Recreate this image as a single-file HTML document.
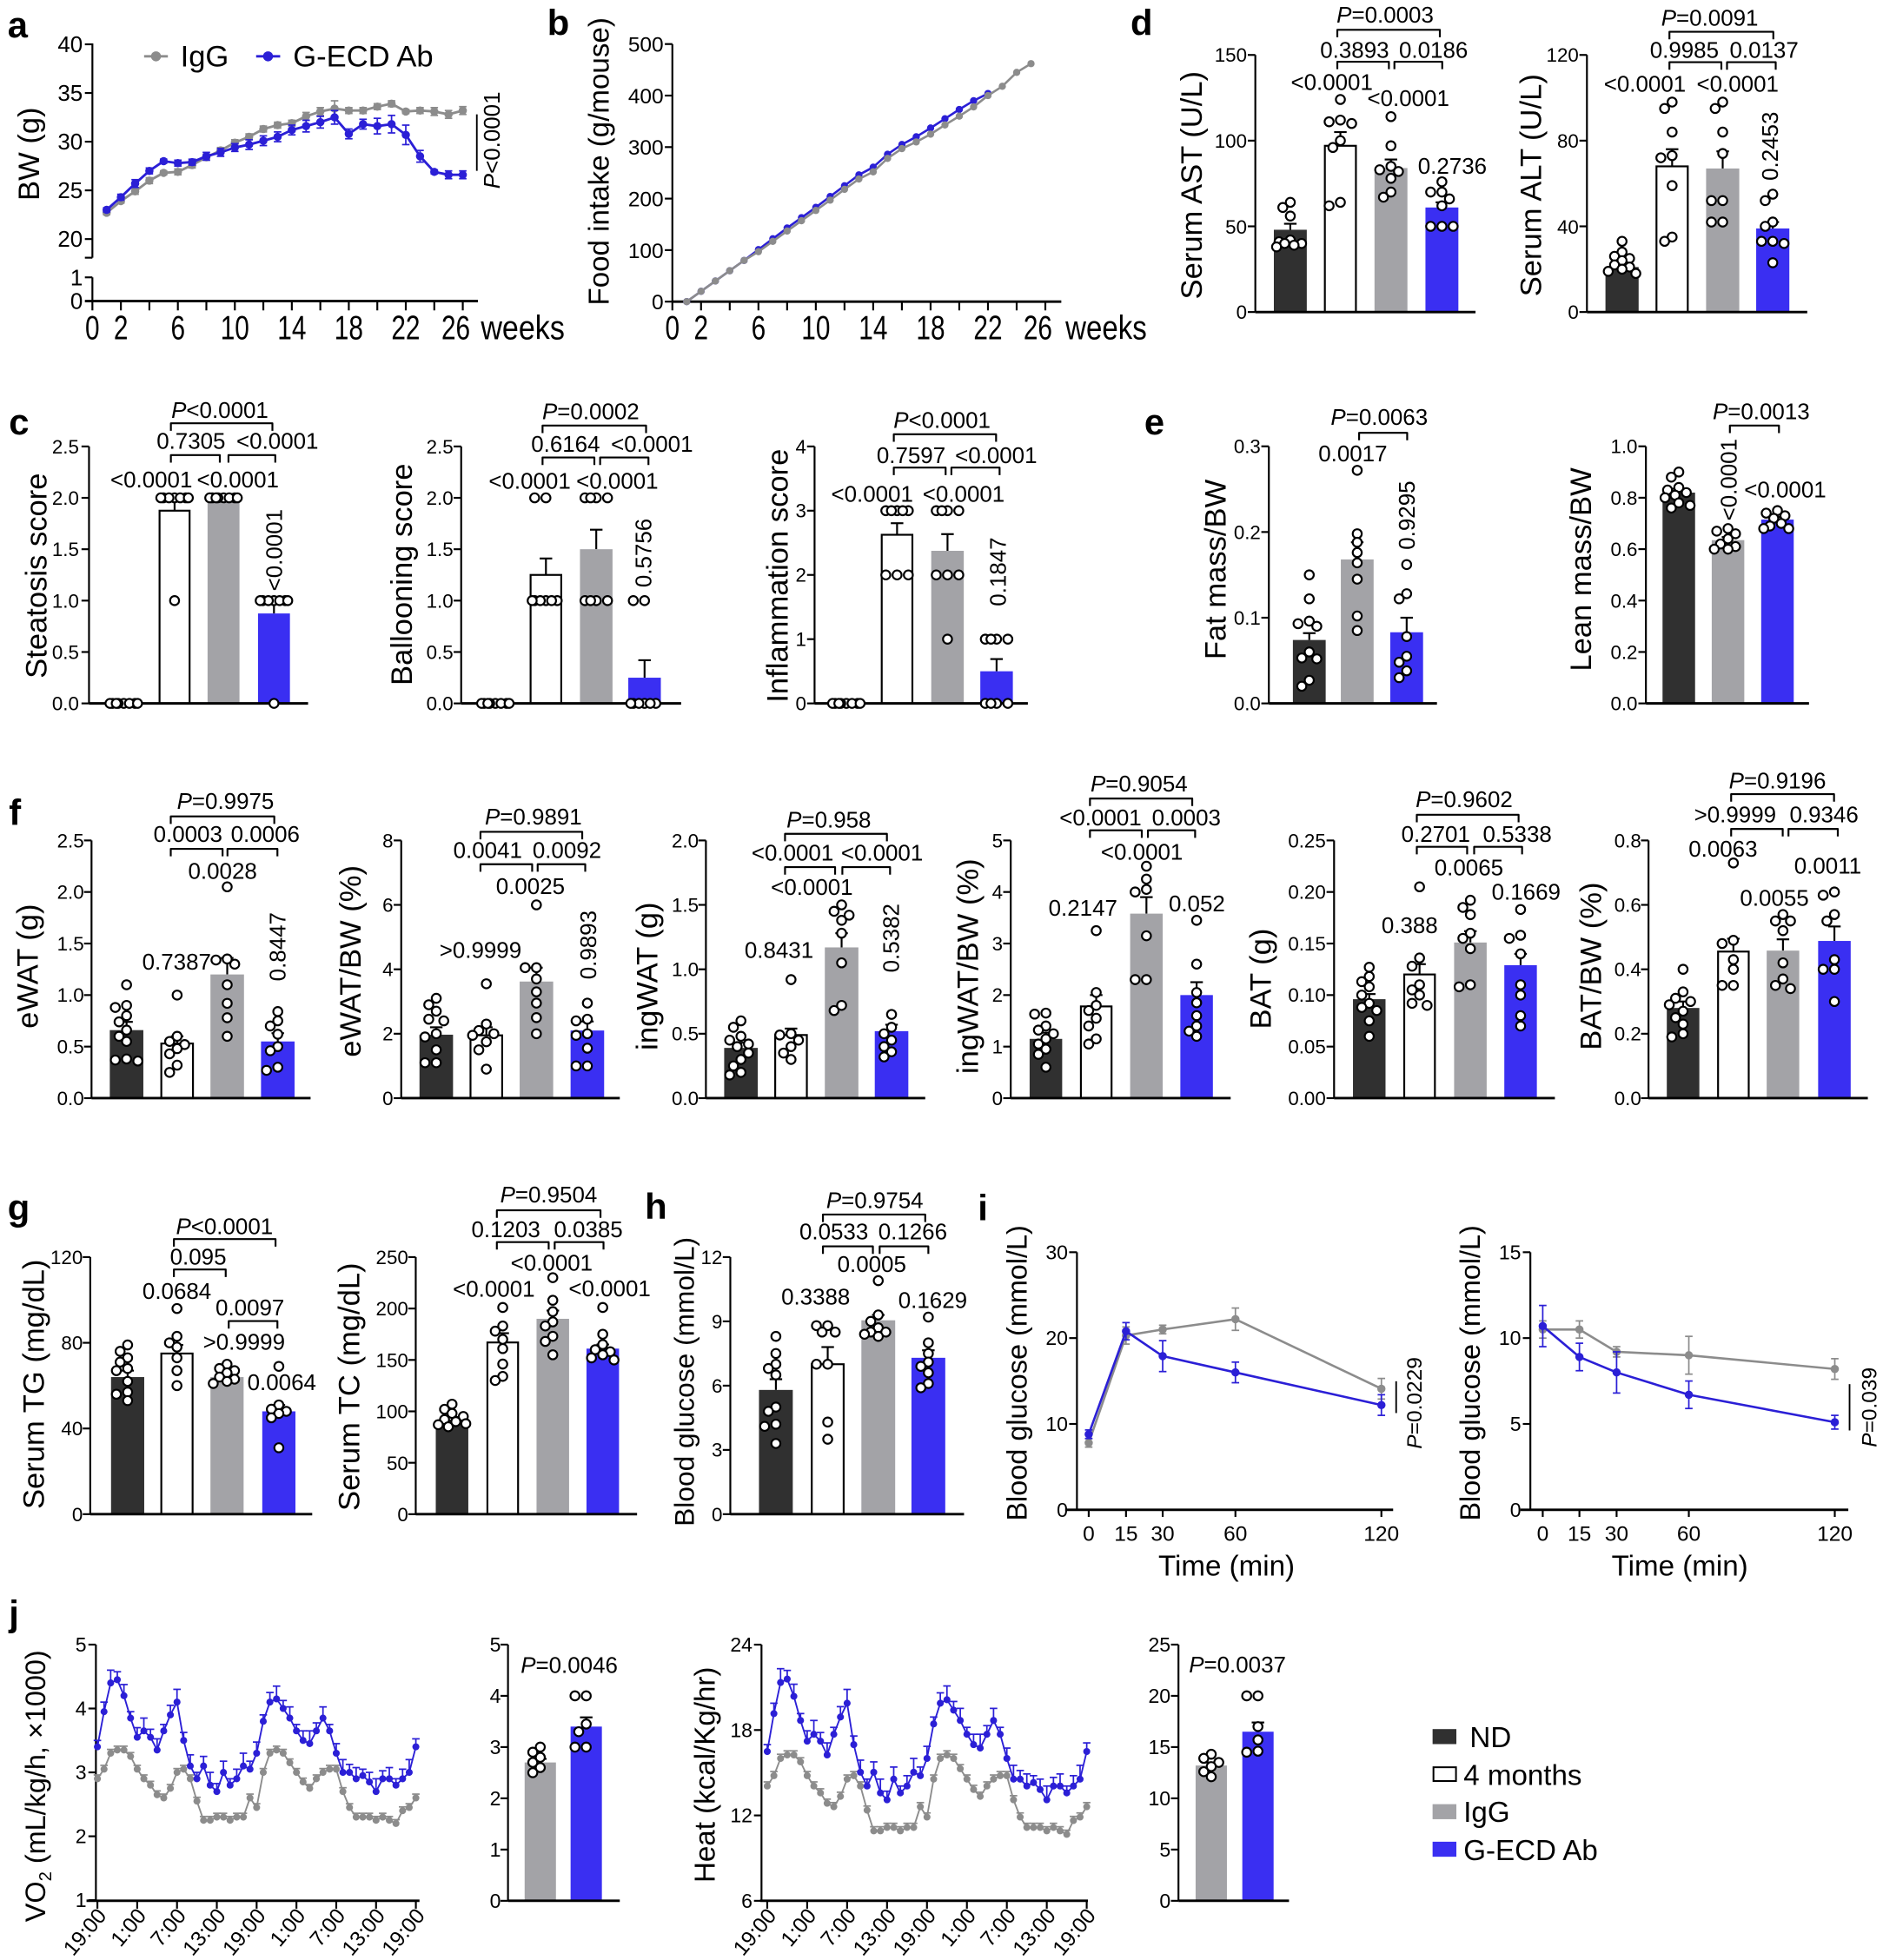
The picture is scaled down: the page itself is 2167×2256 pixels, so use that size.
<!DOCTYPE html>
<html><head><meta charset="utf-8">
<style>
html,body{margin:0;padding:0;background:#fff}
svg{display:block}
text{font-family:"Liberation Sans",Arial,Helvetica,sans-serif;fill:#000}
.pl{font-size:29px;font-weight:bold}
.a15{font-size:15.5px}
.a16{font-size:16px}
.a17{font-size:17px}
.a18{font-size:18px}
.a22{font-size:22.5px}
.a23{font-size:23px}
.a24{font-size:24px}
.a27{font-size:27px}
.m{text-anchor:middle}
.e{text-anchor:end}
</style></head>
<body>
<svg id="fig" xmlns="http://www.w3.org/2000/svg" width="2167" height="2256" viewBox="0 0 1504 1566">
<rect x="0" y="0" width="1504" height="1566" fill="#fff"/>
<g id="shapes"></g>

<!-- panel letters -->
<text class="pl" x="6" y="30">a</text>
<text class="pl" x="437" y="28">b</text>
<text class="pl" x="903" y="28">d</text>
<text class="pl" x="7" y="347">c</text>
<text class="pl" x="914" y="347">e</text>
<text class="pl" x="7" y="659">f</text>
<text class="pl" x="6" y="975">g</text>
<text class="pl" x="515" y="974">h</text>
<text class="pl" x="781" y="975">i</text>
<text class="pl" x="7" y="1299">j</text>

<!-- ===== a ===== -->
<g class="a18 e">
<text x="66" y="41.7">40</text><text x="66" y="80.6">35</text><text x="66" y="119.5">30</text>
<text x="66" y="158.4">25</text><text x="66" y="197.3">20</text><text x="66" y="227.9">1</text><text x="66" y="246.9">0</text>
</g>
<g class="a27 m">
<text x="73.7" y="271" textLength="11.5" lengthAdjust="spacingAndGlyphs">0</text>
<text x="96.5" y="271" textLength="11.5" lengthAdjust="spacingAndGlyphs">2</text>
<text x="142" y="271" textLength="11.5" lengthAdjust="spacingAndGlyphs">6</text>
<text x="187.5" y="271" textLength="23" lengthAdjust="spacingAndGlyphs">10</text>
<text x="233" y="271" textLength="23" lengthAdjust="spacingAndGlyphs">14</text>
<text x="278.5" y="271" textLength="23" lengthAdjust="spacingAndGlyphs">18</text>
<text x="324" y="271" textLength="23" lengthAdjust="spacingAndGlyphs">22</text>
<text x="364" y="271" textLength="23" lengthAdjust="spacingAndGlyphs">26</text>
</g>
<text class="a27" x="384" y="271" textLength="67" lengthAdjust="spacingAndGlyphs">weeks</text>
<text class="a24 m" transform="translate(31,123) rotate(-90)">BW (g)</text>
<text class="a24" x="144" y="53">IgG</text>
<text class="a24" x="234" y="53">G-ECD Ab</text>
<text class="a18 m" transform="translate(399,112) rotate(-90)"><tspan font-style="italic">P</tspan>&lt;0.0001</text>

<!-- ===== b ===== -->
<g class="a17 e">
<text x="530" y="41.3">500</text><text x="530" y="82.5">400</text><text x="530" y="123.6">300</text>
<text x="530" y="164.8">200</text><text x="530" y="206">100</text><text x="530" y="247">0</text>
</g>
<g class="a27 m">
<text x="537" y="271" textLength="11.5" lengthAdjust="spacingAndGlyphs">0</text>
<text x="559.9" y="271" textLength="11.5" lengthAdjust="spacingAndGlyphs">2</text>
<text x="605.8" y="271" textLength="11.5" lengthAdjust="spacingAndGlyphs">6</text>
<text x="651.6" y="271" textLength="23" lengthAdjust="spacingAndGlyphs">10</text>
<text x="697.4" y="271" textLength="23" lengthAdjust="spacingAndGlyphs">14</text>
<text x="743.3" y="271" textLength="23" lengthAdjust="spacingAndGlyphs">18</text>
<text x="789.1" y="271" textLength="23" lengthAdjust="spacingAndGlyphs">22</text>
<text x="829" y="271" textLength="23" lengthAdjust="spacingAndGlyphs">26</text>
</g>
<text class="a27" x="851" y="271" textLength="65" lengthAdjust="spacingAndGlyphs">weeks</text>
<text class="a23 m" transform="translate(486,129) rotate(-90)">Food intake (g/mouse)</text>

<!-- ===== d ===== -->
<g class="a15 e">
<text x="996" y="49.4">150</text><text x="996" y="118.1">100</text><text x="996" y="186.6">50</text><text x="996" y="254.8">0</text>
<text x="1261" y="49.4">120</text><text x="1261" y="118.1">80</text><text x="1261" y="186.6">40</text><text x="1261" y="254.8">0</text>
</g>
<text class="a24 m" transform="translate(960,148) rotate(-90)">Serum AST (U/L)</text>
<text class="a24 m" transform="translate(1231,148) rotate(-90)">Serum ALT (U/L)</text>
<g class="a18 m">
<text x="1106.4" y="18.1"><tspan font-style="italic">P</tspan>=0.0003</text>
<text x="1082" y="46.3">0.3893</text><text x="1145" y="46.3">0.0186</text>
<text x="1063.8" y="71.7">&lt;0.0001</text><text x="1124.9" y="84.7">&lt;0.0001</text><text x="1160.1" y="138.8">0.2736</text>
<text x="1365.7" y="20.4"><tspan font-style="italic">P</tspan>=0.0091</text>
<text x="1345.4" y="46.3">0.9985</text><text x="1409.1" y="46.3">0.0137</text>
<text x="1313.9" y="73.1">&lt;0.0001</text><text x="1388" y="73.1">&lt;0.0001</text>
<text transform="translate(1420,116.8) rotate(-90)">0.2453</text>
</g>

<!-- ===== c ===== -->
<g class="a15 e">
<text x="63" y="362.2">2.5</text><text x="63" y="403.3">2.0</text><text x="63" y="444.4">1.5</text><text x="63" y="485.5">1.0</text><text x="63" y="526.6">0.5</text><text x="63" y="567.5">0.0</text>
<text x="362" y="362.2">2.5</text><text x="362" y="403.3">2.0</text><text x="362" y="444.4">1.5</text><text x="362" y="485.5">1.0</text><text x="362" y="526.6">0.5</text><text x="362" y="567.5">0.0</text>
<text x="644" y="362.2">4</text><text x="644" y="413.5">3</text><text x="644" y="464.8">2</text><text x="644" y="516.1">1</text><text x="644" y="567.5">0</text>
</g>
<text class="a24 m" transform="translate(37,460) rotate(-90)">Steatosis score</text>
<text class="a24 m" transform="translate(329,459) rotate(-90)">Ballooning score</text>
<text class="a24 m" transform="translate(629,460) rotate(-90)">Inflammation score</text>
<g class="a18 m">
<text x="175.5" y="333.8"><tspan font-style="italic">P</tspan>&lt;0.0001</text>
<text x="152.5" y="358.5">0.7305</text><text x="221.5" y="358.5">&lt;0.0001</text>
<text x="120.8" y="389.3">&lt;0.0001</text><text x="189.9" y="389.3">&lt;0.0001</text>
<text transform="translate(225,439.5) rotate(-90)">&lt;0.0001</text>
<text x="471.8" y="335"><tspan font-style="italic">P</tspan>=0.0002</text>
<text x="451.7" y="360.9">0.6164</text><text x="520.7" y="360.9">&lt;0.0001</text>
<text x="423" y="390.5">&lt;0.0001</text><text x="493" y="390.5">&lt;0.0001</text>
<text transform="translate(520,441.8) rotate(-90)">0.5756</text>
<text x="752.4" y="341.9"><tspan font-style="italic">P</tspan>&lt;0.0001</text>
<text x="727.7" y="370.1">0.7597</text><text x="795.6" y="370.1">&lt;0.0001</text>
<text x="696.6" y="400.9">&lt;0.0001</text><text x="769.7" y="400.9">&lt;0.0001</text>
<text transform="translate(803.5,456.8) rotate(-90)">0.1847</text>
</g>

<!-- ===== e ===== -->
<g class="a15 e">
<text x="1007" y="362.1">0.3</text><text x="1007" y="430.6">0.2</text><text x="1007" y="499">0.1</text><text x="1007" y="567.5">0.0</text>
<text x="1308" y="362.1">1.0</text><text x="1308" y="403.2">0.8</text><text x="1308" y="444.3">0.6</text><text x="1308" y="485.4">0.4</text><text x="1308" y="526.4">0.2</text><text x="1308" y="567.5">0.0</text>
</g>
<text class="a24 m" transform="translate(979,455) rotate(-90)">Fat mass/BW</text>
<text class="a24 m" transform="translate(1271,455) rotate(-90)">Lean mass/BW</text>
<g class="a18 m">
<text x="1101.7" y="339.5"><tspan font-style="italic">P</tspan>=0.0063</text>
<text x="1080.6" y="368.5">0.0017</text>
<text transform="translate(1130,411.7) rotate(-90)">0.9295</text>
<text x="1406.8" y="334.9"><tspan font-style="italic">P</tspan>=0.0013</text>
<text transform="translate(1387,383.3) rotate(-90)">&lt;0.0001</text>
<text x="1426" y="397.5">&lt;0.0001</text>
</g>

<!-- ===== f ===== -->
<g class="a15 e">
<text x="67" y="677">2.5</text><text x="67" y="718.2">2.0</text><text x="67" y="759.3">1.5</text><text x="67" y="800.5">1.0</text><text x="67" y="841.7">0.5</text><text x="67" y="882.9">0.0</text>
<text x="314" y="677">8</text><text x="314" y="728.5">6</text><text x="314" y="779.9">4</text><text x="314" y="831.4">2</text><text x="314" y="882.9">0</text>
<text x="558" y="677">2.0</text><text x="558" y="728.5">1.5</text><text x="558" y="779.9">1.0</text><text x="558" y="831.4">0.5</text><text x="558" y="882.9">0.0</text>
<text x="801" y="677">5</text><text x="801" y="718.2">4</text><text x="801" y="759.3">3</text><text x="801" y="800.5">2</text><text x="801" y="841.7">1</text><text x="801" y="882.9">0</text>
<text x="1059" y="677">0.25</text><text x="1059" y="718.2">0.20</text><text x="1059" y="759.3">0.15</text><text x="1059" y="800.5">0.10</text><text x="1059" y="841.7">0.05</text><text x="1059" y="882.9">0.00</text>
<text x="1311" y="677">0.8</text><text x="1311" y="728.5">0.6</text><text x="1311" y="779.9">0.4</text><text x="1311" y="831.4">0.2</text><text x="1311" y="882.9">0.0</text>
</g>
<g class="a24 m">
<text transform="translate(30,772) rotate(-90)">eWAT (g)</text>
<text transform="translate(288,768) rotate(-90)">eWAT/BW (%)</text>
<text transform="translate(525,780) rotate(-90)">ingWAT (g)</text>
<text transform="translate(781,772) rotate(-90)">ingWAT/BW (%)</text>
<text transform="translate(1015,782) rotate(-90)">BAT (g)</text>
<text transform="translate(1279,772) rotate(-90)">BAT/BW (%)</text>
</g>
<g class="a18 m">
<text x="180" y="646.1"><tspan font-style="italic">P</tspan>=0.9975</text>
<text x="150" y="672.5">0.0003</text><text x="211.8" y="672.5">0.0006</text>
<text x="177.7" y="702.3">0.0028</text><text x="141" y="774.5">0.7387</text>
<text transform="translate(228,756.4) rotate(-90)">0.8447</text>

<text x="426" y="658.8"><tspan font-style="italic">P</tspan>=0.9891</text>
<text x="389.5" y="685.5">0.0041</text><text x="452.8" y="685.5">0.0092</text>
<text x="423.6" y="714.3">0.0025</text><text x="383.7" y="765.2">&gt;0.9999</text>
<text transform="translate(476,755) rotate(-90)">0.9893</text>

<text x="662" y="661.1"><tspan font-style="italic">P</tspan>=0.958</text>
<text x="633" y="687.7">&lt;0.0001</text><text x="704.5" y="687.7">&lt;0.0001</text>
<text x="648.5" y="714.8">&lt;0.0001</text><text x="622.2" y="765.2">0.8431</text>
<text transform="translate(718,749.5) rotate(-90)">0.5382</text>

<text x="909.8" y="632.2"><tspan font-style="italic">P</tspan>=0.9054</text>
<text x="879" y="659.5">&lt;0.0001</text><text x="947.6" y="659.5">0.0003</text>
<text x="912.1" y="687">&lt;0.0001</text><text x="865" y="731.7">0.2147</text><text x="956" y="728.2">0.052</text>

<text x="1169.5" y="644.9"><tspan font-style="italic">P</tspan>=0.9602</text>
<text x="1146.8" y="672.7">0.2701</text><text x="1212" y="672.7">0.5338</text>
<text x="1173.3" y="699.3">0.0065</text><text x="1126" y="745.5">0.388</text><text x="1219" y="718.9">0.1669</text>

<text x="1419.8" y="629.9"><tspan font-style="italic">P</tspan>=0.9196</text>
<text x="1386" y="657">&gt;0.9999</text><text x="1457" y="657">0.9346</text>
<text x="1376.3" y="684.3">0.0063</text><text x="1460" y="698.1">0.0011</text><text x="1417.4" y="723.5">0.0055</text>
</g>

<!-- ===== g / h ===== -->
<g class="a15 e">
<text x="66" y="1009.9">120</text><text x="66" y="1078.4">80</text><text x="66" y="1146.9">40</text><text x="66" y="1215.3">0</text>
<text x="326" y="1009.9">250</text><text x="326" y="1051">200</text><text x="326" y="1092.2">150</text><text x="326" y="1133.3">100</text><text x="326" y="1174.4">50</text><text x="326" y="1215.3">0</text>
<text x="577" y="1009.9">12</text><text x="577" y="1061.2">9</text><text x="577" y="1112.6">6</text><text x="577" y="1163.9">3</text><text x="577" y="1215.3">0</text>
</g>
<text class="a24 m" transform="translate(35,1106) rotate(-90)">Serum TG (mg/dL)</text>
<text class="a24 m" transform="translate(287,1108) rotate(-90)">Serum TC (mg/dL)</text>
<text class="a22 m" transform="translate(554,1104) rotate(-90)" style="font-size:22px">Blood glucose (mmol/L)</text>
<g class="a18 m">
<text x="179.2" y="986.2"><tspan font-style="italic">P</tspan>&lt;0.0001</text>
<text x="158.2" y="1010.5">0.095</text><text x="141.2" y="1037.7">0.0684</text>
<text x="199.6" y="1050.9">0.0097</text><text x="194.8" y="1078.2">&gt;0.9999</text><text x="225" y="1110.6">0.0064</text>

<text x="438.2" y="960.7"><tspan font-style="italic">P</tspan>=0.9504</text>
<text x="404" y="988.5">0.1203</text><text x="469.9" y="988.5">0.0385</text>
<text x="440.6" y="1015.1">&lt;0.0001</text><text x="394.4" y="1035.9">&lt;0.0001</text><text x="486.9" y="1035.5">&lt;0.0001</text>

<text x="698.7" y="965.3"><tspan font-style="italic">P</tspan>=0.9754</text>
<text x="666" y="990.1">0.0533</text><text x="729" y="990.1">0.1266</text>
<text x="696.3" y="1016.2">0.0005</text><text x="651.5" y="1042.4">0.3388</text><text x="745" y="1045.1">0.1629</text>
</g>

<!-- ===== i ===== -->
<g class="a16 e">
<text x="853" y="1006">30</text><text x="853" y="1074.6">20</text><text x="853" y="1143.4">10</text><text x="853" y="1212">0</text>
<text x="1215" y="1006">15</text><text x="1215" y="1074.6">10</text><text x="1215" y="1143.4">5</text><text x="1215" y="1212">0</text>
</g>
<g class="a17 m">
<text x="869.6" y="1231">0</text><text x="899.4" y="1231">15</text><text x="928.7" y="1231">30</text><text x="986.8" y="1231">60</text><text x="1103.4" y="1231">120</text>
<text x="1232.3" y="1231">0</text><text x="1261.6" y="1231">15</text><text x="1291.3" y="1231">30</text><text x="1349" y="1231">60</text><text x="1465.6" y="1231">120</text>
</g>
<text class="a23 m" x="979.7" y="1259">Time (min)</text>
<text class="a23 m" x="1341.8" y="1259">Time (min)</text>
<text class="a22 m" transform="translate(820,1097) rotate(-90)">Blood glucose (mmol/L)</text>
<text class="a22 m" transform="translate(1182,1097) rotate(-90)">Blood glucose (mmol/L)</text>
<text class="a17 m" transform="translate(1135.5,1121) rotate(-90)"><tspan font-style="italic">P</tspan>=0.0229</text>
<text class="a17 m" transform="translate(1499,1124.4) rotate(-90)"><tspan font-style="italic">P</tspan>=0.039</text>

<!-- ===== j ===== -->
<g class="a16 e">
<text x="69" y="1319.5">5</text><text x="69" y="1370.6">4</text><text x="69" y="1421.6">3</text><text x="69" y="1472.7">2</text><text x="69" y="1523.7">1</text>
<text x="400" y="1319.5">5</text><text x="400" y="1360.5">4</text><text x="400" y="1401.5">3</text><text x="400" y="1442.4">2</text><text x="400" y="1483.4">1</text><text x="400" y="1524.2">0</text>
<text x="601" y="1319.5">24</text><text x="601" y="1387.8">18</text><text x="601" y="1456">12</text><text x="601" y="1524.2">6</text>
<text x="935" y="1319.5">25</text><text x="935" y="1360.5">20</text><text x="935" y="1401.5">15</text><text x="935" y="1442.4">10</text><text x="935" y="1483.4">5</text><text x="935" y="1524.2">0</text>
</g>
<text class="a22 m" transform="translate(36,1427) rotate(-90)">VO<tspan font-size="14" dy="5">2</tspan><tspan dy="-5"> (mL/kg/h, ×1000)</tspan></text>
<text class="a23 m" transform="translate(571,1418) rotate(-90)">Heat (kcal/Kg/hr)</text>
<text class="a18 m" x="454.6" y="1336.5"><tspan font-style="italic">P</tspan>=0.0046</text>
<text class="a18 m" x="988.4" y="1336.2"><tspan font-style="italic">P</tspan>=0.0037</text>
<g class="a17 e">
<text transform="translate(85.7,1531) rotate(-50)">19:00</text>
<text transform="translate(117.5,1531) rotate(-50)">1:00</text>
<text transform="translate(149.3,1531) rotate(-50)">7:00</text>
<text transform="translate(181.1,1531) rotate(-50)">13:00</text>
<text transform="translate(212.9,1531) rotate(-50)">19:00</text>
<text transform="translate(244.7,1531) rotate(-50)">1:00</text>
<text transform="translate(276.5,1531) rotate(-50)">7:00</text>
<text transform="translate(308.3,1531) rotate(-50)">13:00</text>
<text transform="translate(340.1,1531) rotate(-50)">19:00</text>
<text transform="translate(620.8,1531) rotate(-50)">19:00</text>
<text transform="translate(652.7,1531) rotate(-50)">1:00</text>
<text transform="translate(684.6,1531) rotate(-50)">7:00</text>
<text transform="translate(716.5,1531) rotate(-50)">13:00</text>
<text transform="translate(748.4,1531) rotate(-50)">19:00</text>
<text transform="translate(780.3,1531) rotate(-50)">1:00</text>
<text transform="translate(812.2,1531) rotate(-50)">7:00</text>
<text transform="translate(844.1,1531) rotate(-50)">13:00</text>
<text transform="translate(876,1531) rotate(-50)">19:00</text>
</g>
<g class="a23">
<text x="1174" y="1396">ND</text>
<text x="1169" y="1426">4 months</text>
<text x="1169" y="1455.5">IgG</text>
<text x="1169" y="1486">G-ECD Ab</text>
</g>
</svg>

<script>
(function(){
const NS='http://www.w3.org/2000/svg';
const G=document.getElementById('shapes');
function el(t,a){const e=document.createElementNS(NS,t);for(const k in a)e.setAttribute(k,a[k]);G.appendChild(e);return e;}
function L(x1,y1,x2,y2,w,c){el('line',{x1:x1,y1:y1,x2:x2,y2:y2,stroke:c||'#000','stroke-width':w||1.5});}
function PL(pts,w,c){el('polyline',{points:pts.map(p=>p[0].toFixed(2)+','+p[1].toFixed(2)).join(' '),fill:'none',stroke:c||'#000','stroke-width':w||1.5,'stroke-linejoin':'round'});}
function C(cx,cy,r,f,s,w){el('circle',{cx:cx,cy:cy,r:r,fill:f,stroke:s||'none','stroke-width':w||0});}
function R(x,y,w,h,f,s,sw){el('rect',{x:x,y:y,width:w,height:h,fill:f,stroke:s||'none','stroke-width':sw||0});}
function BR(x1,x2,y){PL([[x1,y+6],[x1,y],[x2,y],[x2,y+6]],1.5);}
const COL={n:'#303030',w:'#fff',g:'#a3a3a7',b:'#3a2ff2'};
const GRAY='#8c8c8c', BLUE='#2b1fd6';

function BC(o){
  const sc=(o.yb-o.yt)/o.vm, Y=v=>o.yb-v*sc, bw=o.bw||26.5;
  L(o.ax,o.yt,o.ax,o.yb,1.5);
  o.tk.forEach(t=>L(o.ax-6,Y(t),o.ax,Y(t),1.5));
  o.b.forEach((b,i)=>{
    const x=o.x[i], cx=x+bw/2, v=b[1], e=b[2];
    if(e>0){const ye=Y(v+e);L(cx,Y(v),cx,ye,1.5);L(cx-5,ye,cx+5,ye,1.5);}
    if(v>0){ if(b[0]=='w') R(x+0.75,Y(v),bw-1.5,v*sc,'#fff','#000',1.5); else R(x,Y(v),bw,v*sc,COL[b[0]]); }
  });
  L(o.ax,o.yb,o.xe,o.yb,2);
  o.b.forEach((b,i)=>{
    const cx=o.x[i]+bw/2, pl=[];
    const offs=[0,-6,6,-3,3,-9,9,-4.5,4.5,-11,11];
    b[3].slice().sort((a,c)=>c-a).forEach(v=>{
      const y=Y(v); let best=0,bd=-1;
      for(const dx of offs){let md=1e9;for(const p of pl){const d=Math.hypot(p[0]-dx,p[1]-y);if(d<md)md=d;}
        if(md>=6.8){best=dx;break;} if(md>bd){bd=md;best=dx;}}
      pl.push([best,y]);
    });
    pl.forEach(p=>C(cx+p[0],p[1],3.6,'#fff','#000',1.5));
  });
}
function SER(xs,ys,es,col,r,lw,up){
  PL(xs.map((x,i)=>[x,ys[i]]),lw,col);
  xs.forEach((x,i)=>{const e=es?es[i]:0;
    if(e>0.5){const y1=ys[i]-e,y2=up?ys[i]:ys[i]+e;L(x,y1,x,y2,1.2,col);L(x-3,y1,x+3,y1,1.2,col);if(!up)L(x-3,y2,x+3,y2,1.2,col);}
    C(x,ys[i],r,col);});
}

/* ---- a ---- */
(function(){
 const X=w=>73.7+11.38*w, Y=v=>191-(v-20)*7.78;
 L(73.7,34.7,73.7,205.9,1.5);
 [40,35,30,25,20].forEach(v=>L(67.7,Y(v),73.7,Y(v),1.5));
 L(67.7,205.9,73.7,205.9,1.5);
 L(73.7,221.6,73.7,240.6,1.5); L(67.7,221.6,73.7,221.6,1.5);
 L(67.7,240.6,381.7,240.6,2);
 for(let w=0;w<=26;w+=2)L(X(w),240.6,X(w),248,1.5);
 const ig=[22.7,23.9,24.9,26.0,26.8,26.9,27.6,28.4,29.1,29.9,30.5,31.3,31.7,31.9,32.6,33.1,33.4,33.2,33.2,33.6,33.9,33.1,33.2,33.1,32.8,33.2];
 const ige=[.2,.2,.3,.3,.2,.3,.3,.3,.3,.3,.3,.3,.3,.3,.4,.4,.8,.3,.3,.3,.3,.2,.3,.4,.4,.4];
 const bl=[23.0,24.3,25.7,27.0,28.0,27.8,27.9,28.5,28.9,29.4,29.7,30.1,30.5,31.2,31.6,32.0,32.5,30.8,31.8,31.6,31.8,30.7,28.5,26.9,26.6,26.6];
 const ble=[.2,.3,.4,.3,.2,.3,.3,.4,.4,.4,.5,.5,.5,.5,.6,.6,.7,.5,.5,.8,.9,1.0,.6,.2,.4,.4];
 const xs=ig.map((_,i)=>X(i+1));
 SER(xs,ig.map(Y),ige.map(e=>e*7.78),GRAY,3.3,2,false);
 SER(xs,bl.map(Y),ble.map(e=>e*7.78),BLUE,3.3,2,false);
 L(115,45,134,45,2,GRAY); C(124.5,45,4,GRAY);
 L(204.5,45,223.7,45,2,BLUE); C(214,45,4,BLUE);
 L(380.8,91.4,380.8,136.5,1.3);
})();

/* ---- b ---- */
(function(){
 const X=w=>537+11.46*w, Y=v=>241-v*0.4116;
 L(537,35.2,537,241,1.5);
 [0,100,200,300,400,500].forEach(v=>L(531,Y(v),537,Y(v),1.5));
 L(537,241,847.7,241,2);
 for(let w=0;w<=26;w+=2)L(X(w),241,X(w),248,1.5);
 const g=[0,20,40,60,80,97,117,137,157,177,197,218,238,252,278,297,310,325,343,360,378,400,418,445,462];
 const b=[0,20,40,60,80,101,122,143,163,183,204,225,246,261,286,305,320,337,355,373,390,404];
 SER(b.map((_,i)=>X(i+1)),b.map(Y),null,BLUE,2.9,1.8,false);
 SER(g.map((_,i)=>X(i+1)),g.map(Y),null,GRAY,2.9,1.8,false);
})();

/* ---- bar charts ---- */
const z8=[0,0,0,0,0,0,0,0];
const charts=[
 {ax:71,yb:562,yt:356.7,vm:2.5,tk:[0,.5,1,1.5,2,2.5],x:[86,126.6,165.7,206],bw:25.5,xe:246,
  b:[['n',0,0,z8],['w',1.875,.1,[2,2,2,2,2,2,2,1]],['g',2,0,[2,2,2,2,2,2,2,2]],['b',.875,.1,[1,1,1,1,1,1,1,0]]]},
 {ax:368.3,yb:562,yt:356.7,vm:2.5,tk:[0,.5,1,1.5,2,2.5],x:[382.6,423,463.2,501.8],bw:26,xe:544,
  b:[['n',0,0,z8],['w',1.25,.16,[2,2,1,1,1,1,1,1]],['g',1.5,.19,[2,2,2,2,1,1,1,1]],['b',.25,.17,[1,1,0,0,0,0,0,0]]]},
 {ax:650.6,yb:562,yt:356.7,vm:4,tk:[0,1,2,3,4],x:[663,703.5,743.8,783],bw:26,xe:821,
  b:[['n',0,0,z8],['w',2.625,.18,[3,3,3,3,3,2,2,2]],['g',2.375,.26,[3,3,3,3,2,2,2,1]],['b',.5,.19,[1,1,1,1,0,0,0,0]]]},
 {ax:1002.7,yb:249.3,yt:43.9,vm:150,tk:[0,50,100,150],x:[1017.5,1057.5,1097.9,1138.6],bw:26.3,xe:1178.6,
  b:[['n',48,3.5,[64,61,56,42,41,40,40,39,38]],['w',97,8,[124,112,111,110,100,96,64,62]],['g',84,5,[114,97,85,83,82,78,70,67]],['b',61,3,[76,70,70,66,62,50,50,50]]]},
 {ax:1267.6,yb:249.3,yt:43.9,vm:120,tk:[0,40,80,120],x:[1282.4,1322.4,1362.8,1402.8],bw:26.5,xe:1443.6,
  b:[['n',21,1.5,[33,28,26,25,24,22,21,20,19,18]],['w',68,8,[98,95,84,73,72,59,33,35]],['g',67,8,[98,95,84,74,52,52,42,42]],['b',39,3,[55,52,42,40,33,33,32,23]]]},
 {ax:1013.5,yb:562,yt:356.6,vm:.3,tk:[0,.1,.2,.3],x:[1032.7,1071,1110.5],bw:26.2,xe:1147.8,
  b:[['n',.074,.008,[.15,.122,.096,.093,.09,.06,.053,.052,.027,.02]],['g',.168,.02,[.272,.198,.188,.176,.164,.145,.102,.085]],['b',.083,.017,[.162,.128,.122,.078,.055,.048,.038,.03]]]},
 {ax:1314.7,yb:562,yt:356.6,vm:1,tk:[0,.2,.4,.6,.8,1],x:[1328,1367.3,1406.8],bw:26,xe:1445,
  b:[['n',.82,.015,[.9,.88,.84,.83,.82,.81,.8,.78,.77,.76]],['g',.635,.012,[.68,.67,.66,.64,.62,.61,.6,.6]],['b',.715,.01,[.75,.74,.73,.72,.7,.69,.68,.68]]]},
 {ax:73,yb:877.4,yt:671.5,vm:2.5,tk:[0,.5,1,1.5,2,2.5],x:[87.6,128,168,208.4],bw:26.8,xe:248,
  b:[['n',.66,.08,[1.1,.9,.88,.8,.74,.66,.6,.55,.38,.37,.36]],['w',.53,.07,[1.0,.6,.55,.52,.48,.43,.32,.25]],['g',1.2,.16,[2.05,1.35,1.34,1.3,1.1,.92,.78,.6]],['b',.55,.08,[.84,.75,.7,.62,.5,.46,.3,.27]]]},
 {ax:320.4,yb:877.4,yt:671.5,vm:8,tk:[0,2,4,6,8],x:[335,375,415,455.7],bw:26.8,xe:495,
  b:[['n',1.97,.23,[3.1,2.9,2.7,2.45,2.4,2.0,1.9,1.5,1.1,1.1]],['w',1.95,.25,[3.55,2.3,2.1,2.0,1.95,1.75,1.5,.9]],['g',3.62,.43,[6.0,4.05,4.05,3.7,3.3,2.95,2.5,2.0]],['b',2.1,.28,[2.95,2.45,2.4,2.0,1.95,1.55,1.0,1.0]]]},
 {ax:563.8,yb:877.4,yt:671.5,vm:2,tk:[0,.5,1,1.5,2],x:[578.4,618.4,658.8,698.7],bw:26.8,xe:739,
  b:[['n',.39,.04,[.6,.55,.48,.45,.42,.4,.35,.3,.25,.2,.18]],['w',.49,.05,[.92,.5,.49,.45,.4,.35,.3]],['g',1.17,.11,[1.5,1.45,1.42,1.38,1.28,1.05,.72,.68]],['b',.52,.05,[.65,.55,.5,.45,.4,.36,.32]]]},
 {ax:807.3,yb:877.4,yt:671.5,vm:5,tk:[0,1,2,3,4,5],x:[822.4,862.6,902.7,942.8],bw:26,xe:983,
  b:[['n',1.15,.12,[1.65,1.63,1.4,1.32,1.25,1.15,1.05,.95,.85,.6]],['w',1.78,.22,[3.25,2.05,1.8,1.7,1.55,1.4,1.15,1.05]],['g',3.58,.32,[4.5,4.25,4.05,4.0,3.15,2.3,2.3]],['b',2.0,.25,[3.45,2.6,2.05,1.85,1.6,1.4,1.3,1.2]]]},
 {ax:1065.6,yb:877.4,yt:671.5,vm:.25,tk:[0,.05,.1,.15,.2,.25],x:[1080.7,1120.9,1161.5,1201.6],bw:26,xe:1242,
  b:[['n',.096,.005,[.127,.118,.113,.108,.1,.092,.088,.085,.075,.06]],['w',.12,.01,[.205,.136,.128,.11,.105,.1,.092,.09]],['g',.151,.011,[.192,.185,.178,.16,.155,.145,.108,.11]],['b',.129,.011,[.183,.158,.155,.14,.11,.1,.08,.07]]]},
 {ax:1316.8,yb:877.4,yt:671.5,vm:.8,tk:[0,.2,.4,.6,.8],x:[1331.4,1371.6,1411.2,1452.3],bw:26,xe:1492,
  b:[['n',.28,.02,[.4,.33,.31,.3,.29,.27,.25,.23,.2,.19]],['w',.455,.04,[.73,.49,.48,.43,.4,.35,.35]],['g',.458,.035,[.57,.55,.55,.52,.42,.37,.35,.34]],['b',.488,.045,[.64,.63,.57,.55,.43,.4,.4,.3]]]},
 {ax:72,yb:1209.8,yt:1004.4,vm:120,tk:[0,40,80,120],x:[88.6,128,168,209.4],bw:26.5,xe:249.3,
  b:[['n',64,3,[79,76,73,71,68,67,62,57,56,53]],['w',75,4,[96,83,80,78,73,67,60]],['g',64,1.5,[70,68,67,66,64,63,62,61]],['b',48,3,[69,51,49,48,47,45,31]]]},
 {ax:332,yb:1209.8,yt:1004.4,vm:250,tk:[0,50,100,150,200,250],x:[348,388.5,428.5,468.4],bw:26,xe:508.8,
  b:[['n',92,2.5,[107,102,98,95,92,90,88,87,85]],['w',167,9,[201,183,178,170,161,146,134,130]],['g',190,8,[230,208,197,187,183,173,168,155]],['b',161,4,[201,175,165,160,158,155,152,150]]]},
 {ax:583.3,yb:1209.8,yt:1004.4,vm:12,tk:[0,3,6,9,12],x:[606.2,647.6,688,728],bw:27,xe:770,
  b:[['n',5.8,.5,[8.3,7.5,7.0,6.8,6.5,5.0,4.8,4.2,4.1,3.3]],['w',7.0,.8,[8.8,8.5,8.5,8.8,7.0,7.0,4.3,3.5]],['g',9.05,.25,[10.9,9.3,9.0,8.7,8.5,8.5,8.4,8.3]],['b',7.3,.35,[9.2,8.0,7.5,7.1,6.9,6.6,6.1,5.9]]]},
 {ax:405.7,yb:1518.7,yt:1314,vm:5,tk:[0,1,2,3,4,5],x:[419,455.7],bw:25,xe:495,
  b:[['g',2.7,.07,[3.0,2.9,2.8,2.7,2.6,2.5]],['b',3.4,.18,[4.0,4.0,3.45,3.3,3.0,3.0]]]},
 {ax:941.3,yb:1518.7,yt:1314,vm:25,tk:[0,5,10,15,20,25],x:[955,992.3],bw:25,xe:1029.6,
  b:[['g',13.2,.3,[14.3,13.9,13.5,13.1,12.6,12.1]],['b',16.5,.9,[20,20,17,15.7,14.6,14.5]]]}
];
charts.forEach(BC);

[[1068.2,1150.1,23.8],[1068.2,1109.4,49.3],[1113.8,1152,49.3],[1333.5,1416.5,25.4],[1333.5,1375,49.7],[1379.5,1418.4,49.7],
 [136.4,217.5,338.2],[136.4,175.5,363.6],[182.4,219.8,363.6],[433.3,516,340],[433.3,474.7,365.5],[479.3,517.9,365.5],
 [713.9,795.6,347],[713.9,755.3,373.6],[759.9,798.4,373.6],
 [1085.6,1124,345.8],[1381.8,1421,340],
 [136.3,219,652.3],[136.3,177.7,678.2],[181.6,221.5,678.2],[383.7,465,664.6],[383.7,425,690.5],[429.4,467.4,690.5],
 [627,708.4,666.2],[627,667,692.8],[672.8,710.9,692.8],[870.6,952.3,638],[870.6,912,663.4],[916.9,954.6,663.4],
 [1131.7,1213,651],[1131.7,1171.9,676.6],[1177.5,1215.8,676.6],[1382.8,1465,634.5],[1382.8,1424,662.3],[1428.6,1468,662.3],
 [138.8,220,990],[138.8,180.2,1014.3],[182.6,221.5,1055.5],[396.8,479.6,967],[396.8,438.2,992.4],[443,482,992.4],
 [657.3,739,970.4],[657.3,697.2,995.8],[702.6,741.5,995.8]
].forEach(b=>BR(b[0],b[1],b[2]));

/* ---- i ---- */
(function(){
 const Y=v=>1206.3-v*6.86, xs=[869.6,899.4,928.7,986.8,1103.4];
 L(860.2,1000.5,860.2,1206.3,1.5);
 [0,10,20,30].forEach(v=>L(854,Y(v),860.2,Y(v),1.5));
 L(850.8,1206.3,1112.8,1206.3,2);
 xs.forEach(x=>L(x,1206.3,x,1212,1.5));
 SER(xs,[7.8,20.3,21.0,22.2,14.1].map(Y),[.5,1,.5,1.3,1.2].map(e=>e*6.86),GRAY,3.3,1.8,false);
 SER(xs,[8.8,20.8,17.9,16.0,12.2].map(Y),[.5,1,1.8,1.2,1.2].map(e=>e*6.86),BLUE,3.3,1.8,false);
 L(1115.2,1103.6,1115.2,1129,1.3);
 const Y2=v=>1206.3-v*13.72, xs2=[1232.3,1261.6,1291.3,1349,1465.6];
 L(1222.4,1000.5,1222.4,1206.3,1.5);
 [0,5,10,15].forEach(v=>L(1216.4,Y2(v),1222.4,Y2(v),1.5));
 L(1214.4,1206.3,1476.4,1206.3,2);
 xs2.forEach(x=>L(x,1206.3,x,1212,1.5));
 SER(xs2,[10.5,10.5,9.2,9.0,8.2].map(Y2),[.5,.5,.3,1.1,.6].map(e=>e*13.72),GRAY,3.3,1.8,false);
 SER(xs2,[10.7,8.9,8.0,6.7,5.1].map(Y2),[1.2,.8,1.2,.8,.4].map(e=>e*13.72),BLUE,3.3,1.8,false);
 L(1477.4,1105.9,1477.4,1142.9,1.3);
})();

/* ---- j lines ---- */
(function(){
 const vb=[3.4,3.95,4.4,4.45,4.2,3.85,3.55,3.65,3.55,3.35,3.65,3.9,4.1,3.5,3.1,2.9,3.1,2.8,2.7,3.0,2.8,2.9,3.1,3.05,3.3,3.8,4.1,4.15,4.0,3.85,3.65,3.5,3.45,3.65,3.85,3.65,3.3,3.0,3.0,2.9,2.95,2.85,2.7,2.9,2.9,2.8,2.9,3.0,3.4];
 const vg=[2.9,3.05,3.3,3.35,3.35,3.25,3.05,2.9,2.8,2.65,2.6,2.75,3.0,3.05,2.9,2.55,2.25,2.25,2.3,2.3,2.25,2.3,2.3,2.6,2.45,3.0,3.3,3.35,3.3,3.15,3.0,2.85,2.75,2.9,3.0,3.05,3.05,2.7,2.45,2.3,2.3,2.3,2.25,2.3,2.25,2.2,2.4,2.45,2.6];
 const eb=vb.map((_,i)=>0.1+0.1*((i*7)%5)/4), eg=vg.map(()=>0.06);
 const Xv=h=>77.7+5.3*h, Yv=v=>1518.2-(v-1)*51.05;
 L(76.5,1314,76.5,1518.7,1.5);
 [1,2,3,4,5].forEach(v=>L(70.5,Yv(v),76.5,Yv(v),1.5));
 L(69,1518.7,335,1518.7,2);
 for(let k=0;k<9;k++){const x=77.7+31.8*k;L(x,1518.7,x,1525,1.5);}
 const xs=vb.map((_,i)=>Xv(i));
 SER(xs,vg.map(Yv),eg.map(e=>e*51.05),GRAY,2.8,1.3,true);
 SER(xs,vb.map(Yv),eb.map(e=>e*51.05),BLUE,2.8,1.3,true);
 const Xh=h=>612.8+5.317*h, Yh=v=>1518.7-(v-6)*11.37;
 L(608.2,1314,608.2,1518.7,1.5);
 [6,12,18,24].forEach(v=>L(602.2,Yh(v),608.2,Yh(v),1.5));
 L(607,1518.7,869,1518.7,2);
 for(let k=0;k<9;k++){const x=612.8+31.9*k;L(x,1518.7,x,1525,1.5);}
 const xh=vb.map((_,i)=>Xh(i));
 SER(xh,vg.map(v=>Yh(v*4.85)),eg.map(e=>e*4.85*11.37),GRAY,2.8,1.3,true);
 SER(xh,vb.map(v=>Yh(v*4.85)),eb.map(e=>e*4.85*11.37),BLUE,2.8,1.3,true);
})();

R(1144.3,1381.5,19,12,'#303030');
R(1145,1412,18,11,'#fff','#000',1.4);
R(1144.3,1441.5,19,12,'#a3a3a7');
R(1144.3,1471.5,19,12,'#3a2ff2');
})();
</script>
</body></html>
